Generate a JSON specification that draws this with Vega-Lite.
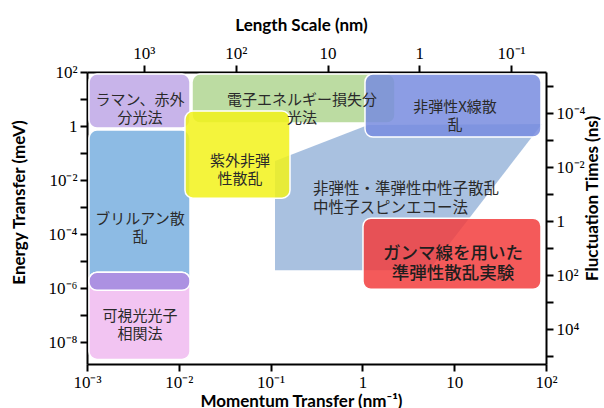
{
  "$schema": "https://vega.github.io/schema/vega-lite/v6.json",
  "width": 459,
  "height": 292,
  "autosize": {"type": "none"},
  "padding": {"left": 87, "top": 72, "right": 58, "bottom": 44},
  "background": "white",
  "config": {
    "view": {"stroke": null},
    "axis": {
      "grid": false,
      "domainColor": "#000",
      "domainWidth": 2,
      "tickColor": "#000",
      "tickWidth": 2,
      "tickSize": 7,
      "labelFont": "'Liberation Serif', 'Times New Roman', serif",
      "labelFontSize": 17,
      "labelColor": "#000",
      "labelPadding": 3,
      "labelFlush": false,
      "labelOverlap": false,
      "labelBound": false,
      "titleFont": "Lato",
      "titleFontSize": 17,
      "titleFontWeight": "bold",
      "titleColor": "#000"
    }
  },
  "datasets": {
    "boxes": [
      {"name": "brillouin", "q": 0.001051, "q2": 0.01324, "E": 0.711, "E2": 8.43e-7},
      {"name": "raman", "q": 0.001051, "q2": 0.01324, "E": 84.3, "E2": 0.843},
      {"name": "visible", "q": 0.001051, "q2": 0.01324, "E": 3.92e-6, "E2": 2.34e-9},
      {"name": "band", "q": 0.001051, "q2": 0.01324, "E": 3.92e-6, "E2": 8.43e-7},
      {"name": "eels", "q": 0.01393, "q2": 2.265, "E": 84.3, "E2": 1.291},
      {"name": "xray", "q": 1.067, "q2": 88.2, "E": 84.3, "E2": 0.392},
      {"name": "uv", "q": 0.01168, "q2": 0.1627, "E": 3.59, "E2": 0.00216},
      {"name": "gamma", "q": 1.015, "q2": 88.2, "E": 0.000392, "E2": 9.18e-7}
    ],
    "poly": [
      {"i": 1, "q": 0.1117, "E": 4.64e-6},
      {"i": 2, "q": 0.1117, "E": 0.0506},
      {"i": 3, "q": 1.151, "E": 1.089},
      {"i": 4, "q": 90.4, "E": 1.186},
      {"i": 5, "q": 5.316, "E": 4.64e-6}
    ],
    "labels": [
      {"group": "std", "text": "ラマン、赤外\n分光法", "q": 0.00378, "E": 9.19},
      {"group": "std", "text": "電子エネルギー損失分\n光法", "q": 0.2198, "E": 9.19},
      {"group": "std", "text": "非弾性X線散\n乱", "q": 10.2, "E": 5.28},
      {"group": "std", "text": "紫外非弾\n性散乱", "q": 0.04645, "E": 0.0527},
      {"group": "std", "text": "ブリルアン散\n乱", "q": 0.00378, "E": 0.00036},
      {"group": "std", "text": "可視光光子\n相関法", "q": 0.00378, "E": 9.18e-8},
      {"group": "left", "text": "非弾性・準弾性中性子散乱\n中性子スピンエコー法", "q": 0.2897, "E": 0.00484},
      {"group": "big", "text": "ガンマ線を用いた\n準弾性散乱実験", "q": 9.7, "E": 1.9e-5}
    ],
    "axis2": [{"L": 1, "t": 1}]
  },
  "layer": [
    {
      "layer": [
        {
          "data": {"name": "poly"},
          "mark": {"type": "line", "interpolate": "linear-closed", "fill": "#9ab6db", "fillOpacity": 0.85, "strokeWidth": 0, "clip": true},
          "encoding": {
            "x": {"field": "q", "type": "quantitative", "scale": {"type": "log", "domain": [0.001, 100], "nice": false},
              "axis": {"title": "Momentum Transfer (nm⁻¹)", "values": [0.001, 0.01, 0.1, 1, 10, 100], "titlePadding": 3, "titleX": 214,
                "labelExpr": "datum.value < 0.005 ? '10⁻³' : datum.value < 0.05 ? '10⁻²' : datum.value < 0.5 ? '10⁻¹' : datum.value < 5 ? '1' : datum.value < 50 ? '10' : '10²'"}},
            "y": {"field": "E", "type": "quantitative", "scale": {"type": "log", "domain": [1.585e-9, 100], "nice": false},
              "axis": {"title": "Energy Transfer (meV)", "values": [1e-8, 1e-7, 1e-6, 1e-5, 1e-4, 1e-3, 0.01, 0.1, 1, 10, 100], "titlePadding": 20, "titleY": 130,
                "labelExpr": "round(log(datum.value)/LN10)==2?'10²':round(log(datum.value)/LN10)==0?'1':round(log(datum.value)/LN10)==-2?'10⁻²':round(log(datum.value)/LN10)==-4?'10⁻⁴':round(log(datum.value)/LN10)==-6?'10⁻⁶':round(log(datum.value)/LN10)==-8?'10⁻⁸':''"}},
            "order": {"field": "i", "type": "quantitative"}
          }
        },
        {
          "data": {"name": "boxes"},
          "mark": {"type": "rect", "cornerRadius": 8, "stroke": "white", "strokeWidth": 1.5, "fillOpacity": 0.85},
          "encoding": {
            "x": {"field": "q", "type": "quantitative", "scale": {"type": "log", "domain": [0.001, 100], "nice": false}},
            "x2": {"field": "q2"},
            "y": {"field": "E", "type": "quantitative", "scale": {"type": "log", "domain": [1.585e-9, 100], "nice": false}},
            "y2": {"field": "E2"},
            "color": {"field": "name", "type": "nominal", "legend": null,
              "scale": {"domain": ["brillouin", "raman", "visible", "band", "eels", "xray", "uv", "gamma"],
                "range": ["#79afdf", "#bea7e6", "#f0baf0", "#a28adf", "#b0d692", "#788cdf", "#f2f21a", "#f23d3d"]}}
          }
        },
        {
          "data": {"name": "labels"},
          "transform": [{"filter": "datum.group == 'std'"}],
          "mark": {"type": "text", "font": "Noto Sans CJK JP", "fontSize": 15, "lineHeight": 18, "lineBreak": "\n", "align": "center", "baseline": "middle", "color": "#2a2a2a"},
          "encoding": {
            "x": {"field": "q", "type": "quantitative", "scale": {"type": "log", "domain": [0.001, 100], "nice": false}},
            "y": {"field": "E", "type": "quantitative", "scale": {"type": "log", "domain": [1.585e-9, 100], "nice": false}},
            "text": {"field": "text"}
          }
        },
        {
          "data": {"name": "labels"},
          "transform": [{"filter": "datum.group == 'left'"}],
          "mark": {"type": "text", "font": "Noto Sans CJK JP", "fontSize": 15.5, "lineHeight": 19, "lineBreak": "\n", "align": "left", "baseline": "middle", "color": "#2a2a2a"},
          "encoding": {
            "x": {"field": "q", "type": "quantitative", "scale": {"type": "log", "domain": [0.001, 100], "nice": false}},
            "y": {"field": "E", "type": "quantitative", "scale": {"type": "log", "domain": [1.585e-9, 100], "nice": false}},
            "text": {"field": "text"}
          }
        },
        {
          "data": {"name": "labels"},
          "transform": [{"filter": "datum.group == 'big'"}],
          "mark": {"type": "text", "font": "Noto Sans CJK JP", "fontSize": 17.5, "fontWeight": 500, "lineHeight": 20, "lineBreak": "\n", "align": "center", "baseline": "middle", "color": "#1e1e1e"},
          "encoding": {
            "x": {"field": "q", "type": "quantitative", "scale": {"type": "log", "domain": [0.001, 100], "nice": false}},
            "y": {"field": "E", "type": "quantitative", "scale": {"type": "log", "domain": [1.585e-9, 100], "nice": false}},
            "text": {"field": "text"}
          }
        }
      ]
    },
    {
      "data": {"name": "axis2"},
      "mark": {"type": "point", "opacity": 0},
      "encoding": {
        "x": {"field": "L", "type": "quantitative", "scale": {"type": "log", "domain": [0.0417, 4169], "reverse": true, "nice": false},
          "axis": {"orient": "top", "title": "Length Scale (nm)", "values": [1000, 100, 10, 1, 0.1], "titlePadding": 10, "titleX": 214,
            "labelExpr": "datum.value > 500 ? '10³' : datum.value > 50 ? '10²' : datum.value > 5 ? '10' : datum.value > 0.5 ? '1' : '10⁻¹'"}},
        "y": {"field": "t", "type": "quantitative", "scale": {"type": "log", "domain": [3.02e-6, 190500], "reverse": true, "nice": false},
          "axis": {"orient": "right", "title": "Fluctuation Times (ns)", "values": [1e-5, 1e-4, 1e-3, 0.01, 0.1, 1, 10, 100, 1000, 10000, 100000], "titlePadding": 0, "titleAngle": 270, "titleBaseline": "top", "titleY": 126,
            "labelExpr": "round(log(datum.value)/LN10)==-4?'10⁻⁴':round(log(datum.value)/LN10)==-2?'10⁻²':round(log(datum.value)/LN10)==0?'1':round(log(datum.value)/LN10)==2?'10²':round(log(datum.value)/LN10)==4?'10⁴':''"}}
      }
    }
  ],
  "resolve": {"scale": {"x": "independent", "y": "independent"}, "axis": {"x": "independent", "y": "independent"}}
}
